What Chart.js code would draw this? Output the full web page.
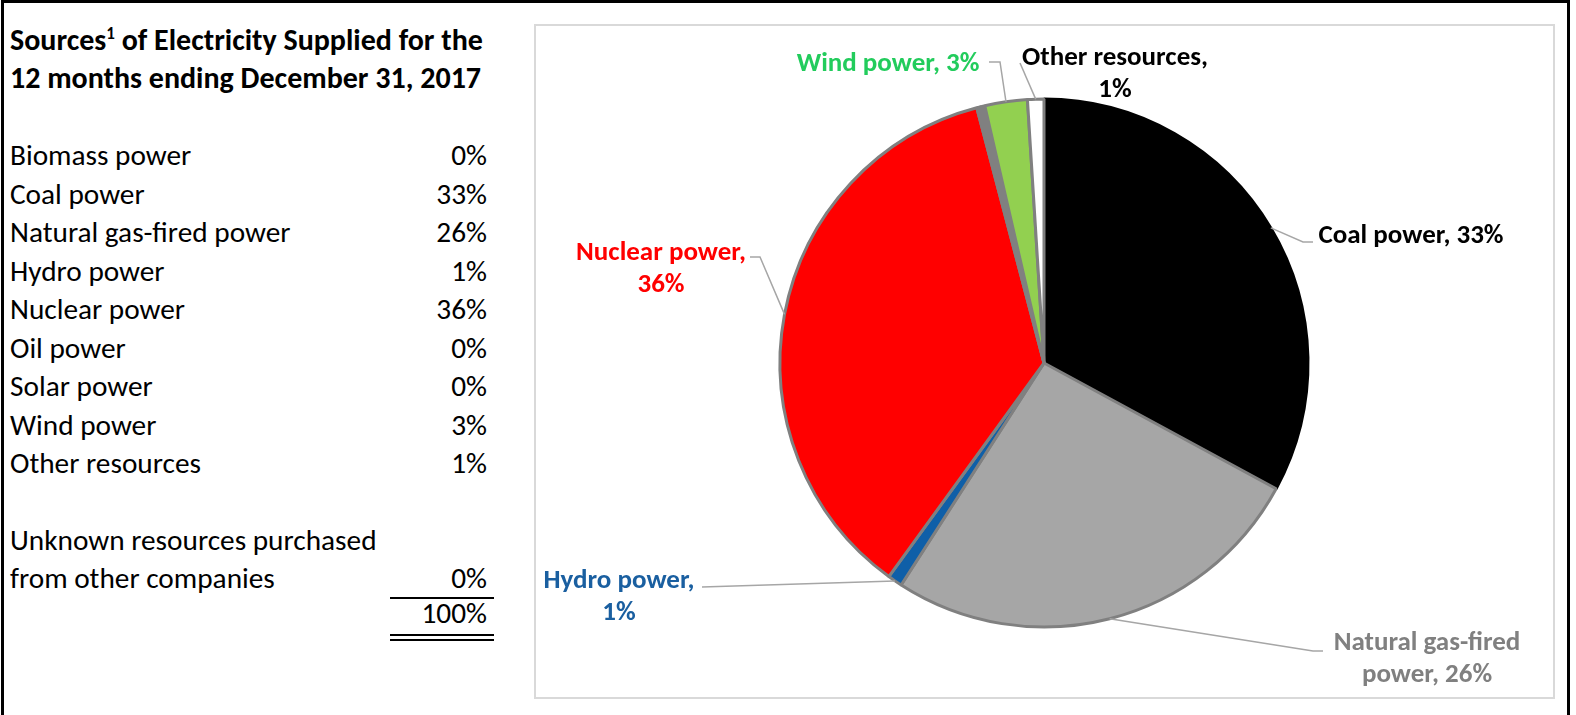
<!DOCTYPE html>
<html>
<head>
<meta charset="utf-8">
<script src="https://cdn.jsdelivr.net/npm/chart.js"></script>
<style>
  body { margin: 0; background: #fff; width: 1576px; height: 715px; overflow: hidden; position: relative; font-family: Carlito, Lato, sans-serif; color: #000; }
  #frame { position: absolute; left: 1px; top: 0; width: 1569px; height: 800px; border: 3px solid #000; box-sizing: border-box; }
  #box { position: absolute; left: 534px; top: 24px; width: 1021px; height: 675px; border: 2px solid #d9d9d9; box-sizing: border-box; }
  #chartWrap { position: absolute; left: 0; top: 0; width: 1576px; height: 715px; }
  .title { position: absolute; left: 10px; font-weight: bold; font-size: 30px; line-height: 34px; white-space: nowrap; }
  .title sup { font-size: 17px; line-height: 0; vertical-align: 11px; }
  .row { position: absolute; left: 10px; width: 477px; font-size: 29.3px; line-height: 34px; display: flex; justify-content: space-between; white-space: nowrap; }
  .rule { position: absolute; left: 390px; width: 104px; height: 2px; background: #000; }
</style>
</head>
<body>
<div id="frame"></div>
<div id="box"></div>
<div class="title" style="top:23px">Sources<sup>1</sup> of Electricity Supplied for the</div>
<div class="title" style="top:61px">12 months ending December 31, 2017</div>
<div id="table"></div>
<div class="rule" style="top:597px"></div>
<div class="rule" style="top:634px"></div>
<div class="rule" style="top:639px"></div>
<div id="chartWrap"><canvas id="pieChart"></canvas></div>
<script>
// Table data
const tableLabels = ['Biomass power', 'Coal power', 'Natural gas-fired power', 'Hydro power', 'Nuclear power', 'Oil power', 'Solar power', 'Wind power', 'Other resources'];
const tableValues = [0, 33, 26, 1, 36, 0, 0, 3, 1];
const unknownLabel = ['Unknown resources purchased', 'from other companies'];
const unknownValue = 0;
const totalValue = 100;

// Pie data (slices, clockwise from 12 o'clock)
const sliceLabels = ['Coal power', 'Natural gas-fired power', 'Hydro power', 'Nuclear power', 'Oil power', 'Solar power', 'Wind power', 'Other resources'];
const sliceValues = [32.9, 26.2, 0.9, 35.9, 0.3, 0.2, 2.6, 1.0];
const sliceColors = ['#000000', '#a6a6a6', '#0f5fa8', '#ff0000', '#808080', '#808080', '#92d050', '#ffffff'];
const sliceBorders = ['#000000', '#808080', '#808080', '#808080', '#808080', '#808080', '#808080', '#808080'];

// Build left table
const table = document.getElementById('table');
const rowTop = 138, rowStep = 38.5;
const addRow = (top, left, right) => {
    const row = document.createElement('div');
    row.className = 'row';
    row.style.top = top + 'px';
    row.innerHTML = `<span>${left}</span><span>${right}</span>`;
    table.appendChild(row);
};
tableLabels.forEach((name, i) => addRow(rowTop + i * rowStep, name, tableValues[i] + '%'));
addRow(523, unknownLabel[0], '');
addRow(561, unknownLabel[1], unknownValue + '%');
addRow(596, '', totalValue + '%');

// Label placement (layout only)
const labelLayout = {
    'Coal power':              { cx: 1411, cy: 236, wrap: 0, color: '#000000', path: [[1303, 242], [1313, 242]] },
    'Natural gas-fired power': { cx: 1427, cy: 643, wrap: 2, color: '#808080', path: [[1313, 651], [1323, 651]] },
    'Hydro power':             { cx: 619,  cy: 581, wrap: 2, color: '#1a5fa0', path: [[702, 587]] },
    'Nuclear power':           { cx: 661,  cy: 253, wrap: 2, color: '#ff0000', path: [[760, 257], [750, 257]] },
    'Wind power':              { cx: 888,  cy: 64,  wrap: 0, color: '#22cc5c', path: [[1000, 62], [989, 62]] },
    'Other resources':         { cx: 1115, cy: 58,  wrap: 2, color: '#000000', path: [[1020, 63]] }
};

const pieLabels = {
    id: 'pieLabels',
    afterDatasetsDraw(chart) {
        const ctx = chart.ctx;
        const meta = chart.getDatasetMeta(0);
        ctx.save();
        sliceLabels.forEach((name, i) => {
            const lay = labelLayout[name];
            if (!lay) return;
            const arc = meta.data[i];
            const { x, y, startAngle, endAngle, outerRadius } = arc.getProps(['x', 'y', 'startAngle', 'endAngle', 'outerRadius'], true);
            const mid = (startAngle + endAngle) / 2;
            ctx.strokeStyle = '#a6a6a6';
            ctx.lineWidth = 1.5;
            ctx.beginPath();
            ctx.moveTo(x + Math.cos(mid) * outerRadius, y + Math.sin(mid) * outerRadius);
            lay.path.forEach(p => ctx.lineTo(p[0], p[1]));
            ctx.stroke();

            const pct = tableValues[tableLabels.indexOf(name)];
            const words = `${name}, ${pct}%`.split(' ');
            const lines = lay.wrap ? [words.slice(0, lay.wrap).join(' '), words.slice(lay.wrap).join(' ')] : [words.join(' ')];
            ctx.fillStyle = lay.color;
            ctx.font = 'bold 27px Carlito, Lato, sans-serif';
            ctx.textAlign = 'center';
            ctx.textBaseline = 'middle';
            lines.forEach((t, k) => ctx.fillText(t, lay.cx, lay.cy + k * 32));
        });
        ctx.restore();
    }
};

new Chart(document.getElementById('pieChart'), {
    type: 'pie',
    data: {
        labels: sliceLabels,
        datasets: [{
            data: sliceValues,
            backgroundColor: sliceColors,
            borderColor: sliceBorders,
            borderWidth: 3
        }]
    },
    options: {
        responsive: true,
        maintainAspectRatio: false,
        animation: false,
        radius: 264,
        layout: { padding: { left: 532, right: 20, top: 20, bottom: 9 } },
        plugins: { legend: { display: false }, tooltip: { enabled: false } }
    },
    plugins: [pieLabels]
});
</script>
</body>
</html>
